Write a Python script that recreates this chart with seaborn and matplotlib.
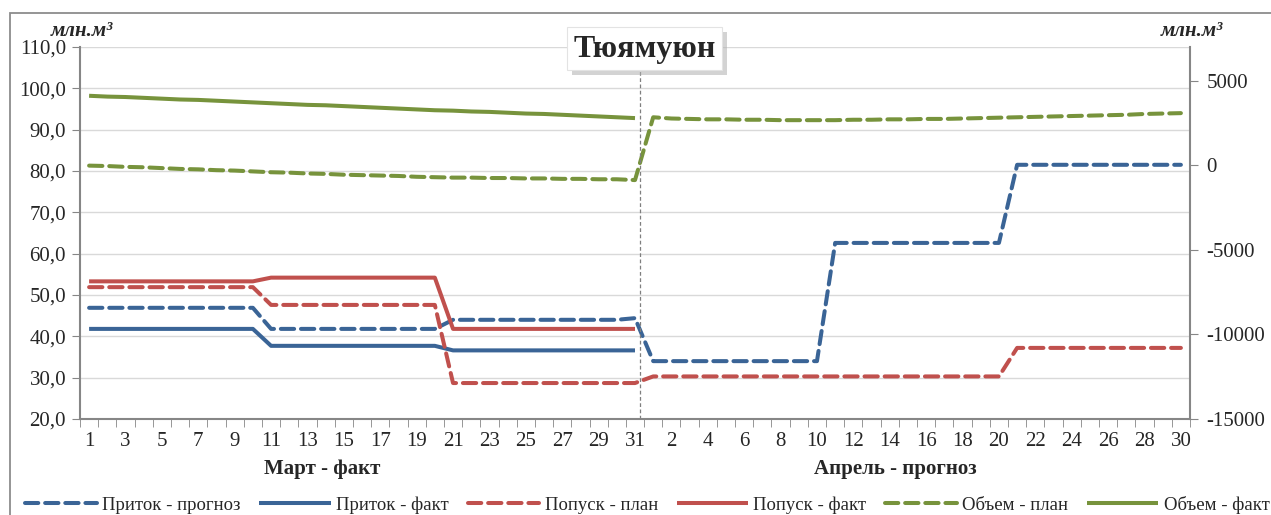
import numpy as np
import pandas as pd
import seaborn as sns
import matplotlib.pyplot as plt
from matplotlib.patches import Rectangle
from matplotlib.ticker import FuncFormatter, FixedLocator, MultipleLocator

# Data
march_days = list(range(1, 32))
april_days = list(range(1, 31))

pritok_prognoz = ([46.9] * 10 + [41.8] * 10 + [44.0] * 10 + [44.4]
                  + [34.0] * 10 + [62.6] * 10 + [81.5] * 10)
pritok_fact = [41.8] * 10 + [37.7] * 10 + [36.6] * 11 + [np.nan] * 30
popusk_plan = ([51.9] * 10 + [47.6] * 10 + [28.7] * 11
               + [30.3] * 20 + [37.2] * 10)
popusk_fact = [53.3] * 10 + [54.2] * 10 + [41.8] * 11 + [np.nan] * 30
obem_plan = [81.3, 81.2, 81.0, 80.9, 80.7, 80.5, 80.4, 80.2, 80.1, 79.9,
             79.7, 79.6, 79.4, 79.3, 79.1, 79.0, 78.9, 78.8, 78.6, 78.5,
             78.4, 78.4, 78.3, 78.3, 78.2, 78.2, 78.1, 78.1, 78.0, 78.0, 77.8,
             93.0, 92.7, 92.6, 92.5, 92.5, 92.4, 92.4, 92.3, 92.3, 92.3,
             92.3, 92.4, 92.4, 92.5, 92.5, 92.6, 92.6, 92.7, 92.8, 92.9,
             93.0, 93.1, 93.2, 93.3, 93.4, 93.5, 93.6, 93.8, 93.9, 94.0]
obem_fact = [98.2, 98.0, 97.9, 97.7, 97.5, 97.3, 97.2, 97.0, 96.8, 96.6,
             96.4, 96.2, 96.0, 95.9, 95.7, 95.5, 95.3, 95.1, 94.9, 94.7,
             94.6, 94.4, 94.3, 94.1, 93.9, 93.8, 93.6, 93.4, 93.2, 93.0, 92.8] + [np.nan] * 30

series = [
    ('Приток - прогноз', pritok_prognoz, '#3a6496', True),
    ('Приток - факт', pritok_fact, '#3a6496', False),
    ('Попуск - план', popusk_plan, '#c0504d', True),
    ('Попуск - факт', popusk_fact, '#c0504d', False),
    ('Объем - план', obem_plan, '#77933c', True),
    ('Объем - факт', obem_fact, '#77933c', False),
]

day_labels = march_days + april_days
idx = np.arange(len(day_labels))

sns.set_style('white')
plt.rcParams['font.family'] = ['Liberation Serif', 'DejaVu Serif']
plt.rcParams['axes.unicode_minus'] = False

W, H = 1271, 515
fig = plt.figure(figsize=(W / 100, H / 100), dpi=100)
ax = fig.add_axes([80 / W, 1 - 419 / H, 1110 / W, 372 / H])

for name, vals, color, dashed in series:
    df = pd.DataFrame({'x': idx, 'y': vals})
    sns.lineplot(data=df, x='x', y='y', ax=ax, color=color, lw=2.9,
                 label=name, solid_capstyle='butt')
    if dashed:
        ax.lines[-1].set_dashes((3.3, 1.7))
        ax.lines[-1].set_dash_capstyle('round')

ax.set_xlim(-0.5, len(day_labels) - 0.5)
ax.set_ylim(20, 110)
ax.yaxis.set_major_locator(MultipleLocator(10))
ax.yaxis.set_major_formatter(FuncFormatter(lambda v, p: f'{v:.1f}'.replace('.', ',')))
ax.grid(axis='y', color='#d9d9d9', lw=1)
ax.set_axisbelow(True)

label_pos = [i for i in idx if i % 2 == 0]
ax.xaxis.set_major_locator(FixedLocator(label_pos))
ax.set_xticklabels([str(day_labels[i]) for i in label_pos])
ax.xaxis.set_minor_locator(FixedLocator(np.arange(-0.5, len(day_labels), 1)))
ax.tick_params(axis='x', which='major', length=0, labelsize=15, pad=9)
ax.tick_params(axis='x', which='minor', length=6, color='#868686', direction='out', bottom=True)
ax.tick_params(axis='y', which='major', length=6, color='#868686', labelsize=15, left=True, pad=4)
ax.set_xlabel('')
ax.set_ylabel('')
for s in ['left', 'bottom', 'right']:
    ax.spines[s].set_color('#868686')
    ax.spines[s].set_linewidth(1.5)
ax.spines['top'].set_visible(False)
ax.legend_.remove()

# secondary axis
ax2 = ax.twinx()
ax2.set_ylim(-15000, 7000)
ax2.yaxis.set_major_locator(FixedLocator([-15000, -10000, -5000, 0, 5000]))
ax2.tick_params(axis='y', length=6, color='#868686', labelsize=15, right=True, pad=6)
for s in ax2.spines.values():
    s.set_visible(False)
ax2.grid(False)

# divider line
ax.axvline(30.3, color='#7f7f7f', lw=0.9, ls=(0, (3, 2)))

# month labels
trans = ax.get_xaxis_transform()
ax.text(12.8, -0.135, 'Март - факт', transform=trans, ha='center', va='center',
        fontsize=15, fontweight='bold')
ax.text(44.3, -0.135, 'Апрель - прогноз', transform=trans, ha='center', va='center',
        fontsize=15, fontweight='bold')

# units
fig.text(82 / W, 1 - 31 / H, 'млн.м³', ha='center', va='center',
         fontsize=15, fontweight='bold', style='italic')
fig.text(1192 / W, 1 - 31 / H, 'млн.м³', ha='center', va='center',
         fontsize=15, fontweight='bold', style='italic')

# title box with shadow
fig.patches.append(Rectangle((572 / W, 1 - 75 / H), 155 / W, 43 / H, transform=fig.transFigure,
                             fc='#b0b0b0', ec='none', alpha=0.55, figure=fig, zorder=5))
fig.patches.append(Rectangle((567 / W, 1 - 70 / H), 155 / W, 43 / H, transform=fig.transFigure,
                             fc='white', ec='#e3e3e3', lw=0.8, figure=fig, zorder=6))
fig.text(644.5 / W, 1 - 49 / H, 'Тюямуюн', ha='center', va='center', fontsize=23,
         fontweight='bold', zorder=7)

# legend
handles, labels = ax.get_legend_handles_labels()
fig.legend(handles, labels, loc='center', bbox_to_anchor=(647.5 / W, 1 - 505 / H), ncol=6,
           frameon=False, fontsize=13.5, handlelength=3.8, columnspacing=1.0,
           handletextpad=0.3)

# outer chart border
fig.patches.append(Rectangle((10 / W, -0.1), 1.2, 1 - 12.5 / H + 0.1,
                             transform=fig.transFigure, fill=False,
                             ec='#8c8c8c', lw=1.3, figure=fig))

fig.savefig('out.png', dpi=100)
